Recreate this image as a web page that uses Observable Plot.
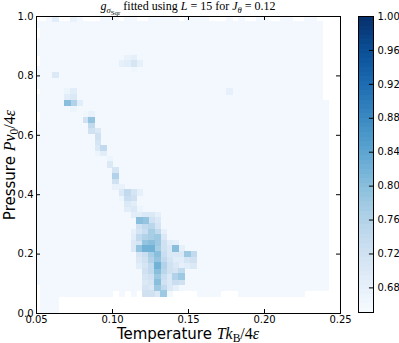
<!DOCTYPE html>
<html><head><meta charset="utf-8">
<script src="https://cdn.jsdelivr.net/npm/d3@7"></script>
<script src="https://cdn.jsdelivr.net/npm/@observablehq/plot@0.6"></script>
<style>
html,body{margin:0;padding:0;background:#fff;}
#wrap{position:relative;width:399px;height:343px;overflow:hidden;font-family:"DejaVu Sans",sans-serif;color:#000;}
#wrap svg{position:absolute;top:0;}
.title{position:absolute;left:0;top:-1px;width:376px;text-align:center;font-family:"Liberation Serif",serif;font-size:12px;line-height:normal;white-space:nowrap;}
.xlab{position:absolute;left:0;width:376px;top:325px;text-align:center;font-size:15px;line-height:18px;white-space:nowrap;}
.ylab{position:absolute;left:-139.5px;top:155.5px;width:297px;text-align:center;font-size:15px;line-height:18px;white-space:nowrap;transform:rotate(-90deg);transform-origin:50% 50%;}
.m{font-family:"Liberation Serif",serif;font-size:16px;}
sub{font-size:0.72em;vertical-align:-0.3em;line-height:0;}
sub sub{font-size:0.8em;}
</style>
</head><body>
<div id="wrap">
  <div class="title"><i>g</i><sub><i>σ</i><sub>Sqr</sub></sub> fitted using <i>L</i> = 15 for <i>J</i><sub><i>θ</i></sub> = 0.12</div>
  <div class="xlab">Temperature <span class="m"><i>Tk</i><sub>B</sub>/4<i>ε</i></span></div>
  <div class="ylab">Pressure <span class="m"><i>Pv</i><sub>0</sub>/4<i>ε</i></span></div>
</div>
<script>
// Temperature grid (cell centers)
const Tcenters = [0.0512,0.0551,0.0591,0.0630,0.0670,0.0709,0.0749,0.0788,0.0828,0.0867,
  0.0907,0.0946,0.0986,0.1025,0.1065,0.1104,0.1144,0.1183,0.1222,0.1262,
  0.1301,0.1341,0.1380,0.1420,0.1459,0.1499,0.1538,0.1578,0.1617,0.1657,
  0.1696,0.1736,0.1775,0.1815,0.1854,0.1893,0.1933,0.1972,0.2012,0.2051,
  0.2091,0.2130,0.2170,0.2209,0.2249,0.2288,0.2328,0.2367,0.2407];
// Pressure grid (cell centers)
const Pcenters = [0.0094,0.0283,0.0472,0.0660,0.0849,0.1038,0.1226,0.1415,0.1604,0.1792,
  0.1981,0.2170,0.2358,0.2547,0.2736,0.2925,0.3113,0.3302,0.3491,0.3679,
  0.3868,0.4057,0.4245,0.4434,0.4623,0.4811,0.5000,0.5189,0.5377,0.5566,
  0.5755,0.5943,0.6132,0.6321,0.6509,0.6698,0.6887,0.7075,0.7264,0.7453,
  0.7642,0.7830,0.8019,0.8208,0.8396,0.8585,0.8774,0.8962,0.9151,0.9340,
  0.9528,0.9717,0.9906];
// lowest / highest pressure row sampled in each temperature column
const colBottomRow = [5,0,0,0,3,3,3,3,3,3,3,3,3,3,3,3,3,3,3,3,3,3,3,3,3,3,3,3,3,3,3,3,3,3,3,3,3,3,3,3,3,3,3,3,3,3,3,3,3];
const colTopRow    = [52,52,52,52,52,52,52,52,52,52,52,52,52,52,52,52,52,52,52,52,52,52,52,52,52,52,52,52,52,52,52,52,52,52,52,52,52,52,52,52,52,52,52,52,52,52,52,52,37];
// typical fitted value of g away from the transition line
const gBackground = 0.66;
// cells without data [Tindex, Pindex]
const missingCells = [
  [0,0],[0,1],[0,2],[0,3],[0,4],[0,34],[0,35],[0,39],[0,44],[0,45],[0,49],[0,50],
  [0,52],[1,52],[4,52],[5,52],[8,52],[9,52],[10,52],[14,52],[17,52],[18,52],[24,52],[29,52],[30,52],[31,52],
  [33,52],[35,52],[36,52],[39,52],[40,52],[43,52],[44,52],[47,52],
  [13,3],[15,3],[17,3],[23,3],[24,3],[25,3],[26,3],[31,3],[32,3],[33,3],[45,3],[46,3],[47,3],[48,3]
];
// cells with larger g [Tindex, Pindex, g]
const hotCells = [
  [3,52,0.69],[6,52,0.675],
  [14,44,0.68],[15,44,0.69],[16,44,0.71],[17,44,0.68],[15,45,0.675],[16,45,0.685],[16,43,0.665],
  [3,42,0.70],[32,39,0.68],
  [5,39,0.67],[6,39,0.69],[5,38,0.69],[6,38,0.70],[5,37,0.80],[6,37,0.76],[7,37,0.69],[6,36,0.67],
  [8,35,0.665],[9,35,0.675],[8,34,0.72],[9,34,0.79],[9,33,0.74],[9,32,0.72],[10,32,0.70],
  [10,31,0.72],[10,30,0.71],[10,29,0.70],[11,29,0.74],[10,28,0.67],
  [11,28,0.69],[12,27,0.67],[12,26,0.70],[13,25,0.71],[13,24,0.76],[13,23,0.72],[13,22,0.675],[14,22,0.675],
  [14,21,0.70],[15,21,0.74],[16,21,0.71],[17,21,0.68],[14,20,0.67],[15,20,0.73],[16,20,0.72],
  [15,19,0.70],[16,19,0.69],[15,18,0.69],[16,18,0.70],[17,18,0.67],
  [16,17,0.69],[17,17,0.69],[18,17,0.70],[19,17,0.70],[20,17,0.68],
  [17,16,0.80],[18,16,0.79],[19,16,0.72],[20,16,0.70],
  [17,15,0.72],[18,15,0.74],[19,15,0.75],[20,15,0.71],
  [16,14,0.68],[17,14,0.71],[18,14,0.73],[19,14,0.77],[20,14,0.74],[21,14,0.68],
  [16,13,0.69],[17,13,0.74],[18,13,0.76],[19,13,0.77],[20,13,0.78],[21,13,0.70],
  [16,12,0.70],[17,12,0.71],[18,12,0.79],[19,12,0.80],[20,12,0.78],[21,12,0.72],[22,12,0.69],[23,12,0.68],
  [16,11,0.70],[17,11,0.79],[18,11,0.82],[19,11,0.82],[20,11,0.77],[21,11,0.72],[22,11,0.70],[23,11,0.80],[24,11,0.68],
  [17,10,0.71],[18,10,0.73],[19,10,0.77],[20,10,0.80],[21,10,0.73],[22,10,0.70],[23,10,0.70],[24,10,0.70],[25,10,0.78],[26,10,0.74],
  [17,9,0.70],[18,9,0.72],[19,9,0.76],[20,9,0.79],[21,9,0.74],[22,9,0.71],[23,9,0.69],[24,9,0.69],[25,9,0.71],[26,9,0.72],
  [17,8,0.69],[18,8,0.71],[19,8,0.74],[20,8,0.82],[21,8,0.76],[22,8,0.72],[23,8,0.70],[24,8,0.68],[25,8,0.69],[26,8,0.70],
  [18,7,0.72],[19,7,0.74],[20,7,0.80],[21,7,0.75],[22,7,0.72],[23,7,0.71],[24,7,0.74],
  [18,6,0.71],[19,6,0.72],[20,6,0.78],[21,6,0.73],[22,6,0.70],[23,6,0.76],[24,6,0.78],
  [18,5,0.70],[19,5,0.71],[20,5,0.80],[21,5,0.72],[22,5,0.70],[23,5,0.73],[24,5,0.72],
  [18,4,0.71],[19,4,0.70],[20,4,0.78],[21,4,0.74],[22,4,0.70],[23,4,0.68],
  [18,3,0.72],[19,3,0.72],[20,3,0.70],[21,3,0.78]
];
const xTicks = [0.05, 0.10, 0.15, 0.20, 0.25];
const yTicks = [0.0, 0.2, 0.4, 0.6, 0.8, 1.0];
const gDomain = [0.651, 1.0];
const cbTicks = [0.68, 0.72, 0.76, 0.80, 0.84, 0.88, 0.92, 0.96, 1.00];

// build table
const dT = (Tcenters[Tcenters.length-1] - Tcenters[0]) / (Tcenters.length - 1);
const dP = (Pcenters[Pcenters.length-1] - Pcenters[0]) / (Pcenters.length - 1);
const missing = new Set(missingCells.map(([k,j]) => k + "," + j));
const hot = new Map(hotCells.map(([k,j,g]) => [k + "," + j, g]));
const cells = [];
Tcenters.forEach((T, k) => {
  for (let j = colBottomRow[k]; j <= colTopRow[k]; j++) {
    const key = k + "," + j;
    if (missing.has(key)) continue;
    cells.push({T, P: Pcenters[j], g: hot.has(key) ? hot.get(key) : gBackground});
  }
});
// draw background cells first, stronger ones on top
cells.sort((a, b) => a.g - b.g);

const color = {type: "linear", domain: gDomain, scheme: "blues"};
const tl = 4; // inward tick length, px
const main = Plot.plot({
  width: 345, height: 343,
  marginLeft: 36, marginRight: 5, marginTop: 16, marginBottom: 30,
  style: {fontFamily: "DejaVu Sans", fontSize: "10px", background: "transparent", overflow: "visible", color: "#000"},
  x: {domain: [0.05, 0.25]},
  y: {domain: [0, 1]},
  color,
  marks: [
    Plot.rect(cells, {x1: d => d.T - dT/2, x2: d => d.T + dT/2, y1: d => d.P - dP/2, y2: d => d.P + dP/2,
      fill: "g", inset: -0.35, clip: true, shapeRendering: "crispEdges"}),
    Plot.ruleX(xTicks, {y1: () => 0, y2: () => tl/297, stroke: "#000"}),
    Plot.ruleX(xTicks, {y1: () => 1, y2: () => 1 - tl/297, stroke: "#000"}),
    Plot.ruleY(yTicks, {x1: () => 0.05, x2: () => 0.05 + tl*0.2/304, stroke: "#000"}),
    Plot.ruleY(yTicks, {x1: () => 0.25, x2: () => 0.25 - tl*0.2/304, stroke: "#000"}),
    Plot.frame({stroke: "#000"}),
    Plot.axisX(xTicks, {tickFormat: d3.format(".2f"), tickSize: 0, tickPadding: 2, label: null}),
    Plot.axisY(yTicks, {tickFormat: d3.format(".1f"), tickSize: 0, tickPadding: 3, label: null})
  ]
});
main.style.left = "0px";

// colorbar
const nb = 64;
const bands = d3.range(nb).map(i => {
  const lo = gDomain[0] + (gDomain[1]-gDomain[0]) * i / nb;
  const hi = gDomain[0] + (gDomain[1]-gDomain[0]) * (i+1) / nb;
  return {lo, hi, mid: (lo+hi)/2};
});
const cbar = Plot.plot({
  width: 49, height: 343,
  marginLeft: 8, marginRight: 26, marginTop: 16, marginBottom: 31,
  style: {fontFamily: "DejaVu Sans", fontSize: "10px", background: "transparent", overflow: "visible", color: "#000"},
  x: {domain: [0, 1], axis: null},
  y: {domain: gDomain},
  color,
  marks: [
    Plot.rect(bands, {x1: () => 0, x2: () => 1, y1: "lo", y2: "hi", fill: "mid", inset: -0.3, shapeRendering: "crispEdges"}),
    Plot.ruleY(cbTicks, {x1: () => 0.73, x2: () => 1, stroke: "#000"}),
    Plot.frame({stroke: "#000"}),
    Plot.axisY(cbTicks, {anchor: "right", tickFormat: d3.format(".2f"), tickSize: 0, tickPadding: 4, label: null})
  ]
});
cbar.style.left = "350px";

const wrap = document.getElementById("wrap");
wrap.insertBefore(cbar, wrap.firstChild);
wrap.insertBefore(main, wrap.firstChild);
</script>
</body></html>
